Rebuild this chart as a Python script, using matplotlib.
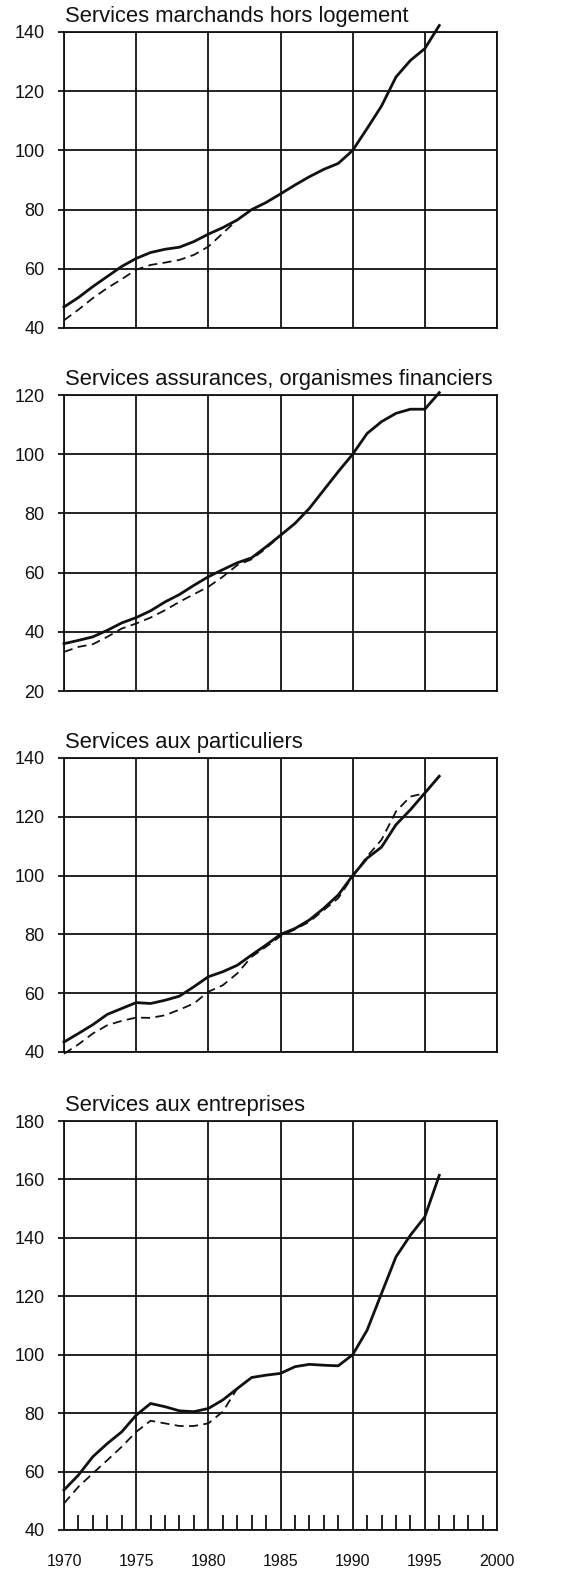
import numpy as np
import matplotlib
matplotlib.use("Agg")
import matplotlib.pyplot as plt
from matplotlib.ticker import MultipleLocator

plt.rcParams["font.family"] = ["Liberation Sans", "DejaVu Sans"]

years = list(range(1970, 1997))

titles = [
    "Services marchands hors logement",
    "Services assurances, organismes financiers",
    "Services aux particuliers",
    "Services aux entreprises",
]

# Solid series, one value per year 1970-1996
marchands_solid = [47.1, 50.3, 54.0, 57.4, 60.8, 63.5, 65.5, 66.6, 67.3, 69.2,
                   71.7, 73.9, 76.5, 80.0, 82.4, 85.3, 88.3, 91.1, 93.6, 95.6,
                   100.0, 107.4, 115.0, 124.8, 130.4, 134.4, 142.2]
assurances_solid = [36.0, 37.1, 38.3, 40.5, 43.0, 44.8, 47.1, 50.1, 52.6, 55.7,
                    58.6, 61.0, 63.3, 65.0, 68.7, 72.6, 76.6, 81.7, 87.9, 94.1,
                    100.0, 107.0, 111.0, 113.8, 115.2, 115.2, 120.8]
particuliers_solid = [43.4, 46.3, 49.3, 52.8, 54.8, 56.8, 56.5, 57.6, 59.0, 62.2,
                      65.6, 67.3, 69.5, 73.0, 76.4, 80.0, 82.0, 84.9, 88.9, 93.4,
                      100.0, 105.9, 109.7, 117.3, 122.4, 128.1, 133.8]
entreprises_solid = [53.7, 58.8, 65.1, 69.6, 73.6, 79.3, 83.3, 82.2, 80.8, 80.5,
                     81.6, 84.5, 88.4, 92.2, 93.0, 93.6, 95.9, 96.7, 96.4, 96.2,
                     100.0, 108.4, 121.0, 133.5, 140.9, 147.2, 161.4]

# Dashed series, starting in 1970 (shorter where they rejoin the solid line)
marchands_dashed = [42.6, 46.2, 50.1, 53.5, 56.5, 59.7, 61.3, 62.1, 63.0, 64.7,
                    67.5, 72.0, 76.5]
assurances_dashed = [33.2, 34.9, 35.8, 38.3, 41.1, 42.8, 44.8, 47.3, 50.1, 52.7,
                     55.2, 58.6, 62.5, 64.5, 68.2, 72.6]
particuliers_dashed = [39.4, 42.6, 46.3, 49.1, 50.6, 51.7, 51.6, 52.5, 54.4, 56.5,
                       60.5, 62.7, 66.7, 72.4, 75.8, 79.4, 81.7, 84.3, 88.3, 92.3,
                       99.7, 106.5, 112.2, 121.8, 126.9, 128.0, 133.8]
entreprises_dashed = [49.1, 54.8, 59.4, 63.9, 68.5, 73.6, 77.4, 76.5, 75.6, 75.6,
                      76.5, 80.5, 88.4]

solid_series = [marchands_solid, assurances_solid, particuliers_solid, entreprises_solid]
dashed_series = [marchands_dashed, assurances_dashed, particuliers_dashed, entreprises_dashed]
y_limits = [(40, 140), (20, 120), (40, 140), (40, 180)]
x_tick_labels = ["1970", "1975", "1980", "1985", "1990", "1995", "2000"]

W, H = 567, 1570
fig = plt.figure(figsize=(W / 100, H / 100), dpi=100)

# panel boxes in pixels: (top, bottom)
left_px, right_px = 64, 497
boxes = [(32, 328), (395, 691), (758, 1052), (1121, 1530)]

ink = "#111111"
for i, (top, bot) in enumerate(boxes):
    ax = fig.add_axes([left_px / W, 1 - bot / H, (right_px - left_px) / W, (bot - top) / H])
    ax.set_xlim(1970, 2000)
    ax.set_ylim(*y_limits[i])
    ax.xaxis.set_major_locator(MultipleLocator(5))
    ax.yaxis.set_major_locator(MultipleLocator(20))
    ax.grid(True, color=ink, linewidth=1.3)
    ax.set_axisbelow(True)
    for sp in ax.spines.values():
        sp.set_color(ink)
        sp.set_linewidth(1.3)

    ax.plot(years, solid_series[i], color=ink, linewidth=2.0, clip_on=False,
            solid_joinstyle="round", zorder=3)
    d = dashed_series[i]
    ax.plot(years[:len(d)], d, color=ink, linewidth=1.3, linestyle=(0, (5, 3)),
            clip_on=False, zorder=3)

    ax.tick_params(axis="y", direction="out", length=4, width=1.3, color=ink,
                   pad=10, labelsize=13, labelcolor=ink)
    if i < 3:
        ax.tick_params(axis="x", length=0, labelbottom=False)
    else:
        ax.set_xticks(range(1970, 2001, 5))
        ax.set_xticklabels(x_tick_labels)
        ax.xaxis.set_minor_locator(MultipleLocator(1))
        ax.tick_params(axis="x", which="major", length=0, pad=17, labelsize=11.5,
                       labelcolor=ink)
        ax.tick_params(axis="x", which="minor", direction="in", length=11,
                       width=1.3, color=ink)

    ax.annotate(titles[i], xy=(0, 1), xycoords="axes fraction",
                xytext=(1, 7), textcoords="offset points",
                ha="left", va="baseline", fontsize=15.8, color=ink,
                annotation_clip=False)

fig.savefig("out.png", dpi=100, facecolor="white")
